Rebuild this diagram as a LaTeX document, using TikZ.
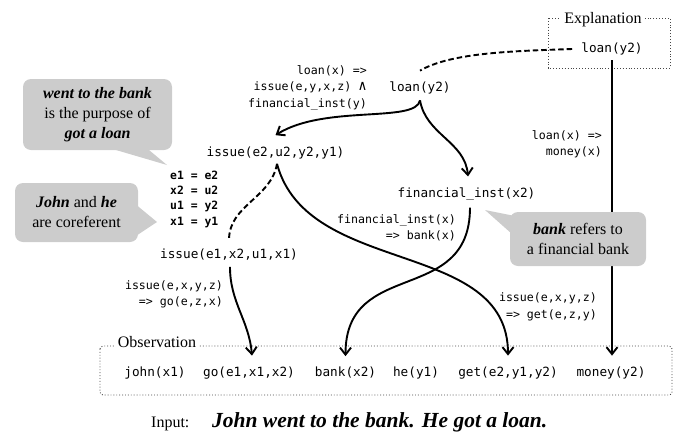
\documentclass[tikz,border=0pt]{standalone}
\usepackage{fontspec}
\setmainfont{Liberation Serif}
\newfontfamily\monofam{DejaVu Sans Mono}
\usetikzlibrary{arrows.meta}
\definecolor{callgray}{RGB}{204,204,204}
\definecolor{dotgray}{RGB}{70,70,70}
\newcommand\myterm{\monofam\fontsize{12.7}{16}\selectfont}
\newcommand\myrule{\monofam\fontsize{11.6}{16.5}\selectfont}
\newcommand\myeq{\monofam\bfseries\fontsize{11.4}{15.3}\selectfont}
\newcommand\mycall{\fontsize{16}{20}\selectfont}
\begin{document}
\begin{tikzpicture}[x=1pt,y=1pt,
  term/.style={font=\myterm, inner sep=1pt},
  rulelbl/.style={font=\myrule, align=right, inner sep=0pt, anchor=east},
  eqlbl/.style={font=\myeq, align=left, inner sep=0pt, anchor=west},
  callout/.style={fill=callgray, rounded corners=8pt, font=\mycall, align=center, inner sep=0pt},
  infer/.style={line width=1.9pt, -{Straight Barb[length=7pt,width=11pt]}},
  unify/.style={line width=1.9pt, dash pattern=on 5.5pt off 3pt},
  frame/.style={dotgray, line width=0.9pt, dash pattern=on 0.9pt off 2pt},
  framelbl/.style={fill=white, font=\fontsize{16}{19}\selectfont, inner xsep=3pt, inner ysep=1pt}
]
\useasboundingbox (0,0) rectangle (680,-434);

% frames
\draw[frame, rounded corners=3pt] (100,-346) rectangle (672,-395);
\node[framelbl] (obsl) at (157,-342.5) {Observation};
\draw[frame] (548,-18) rectangle (670,-68);
\node[framelbl] (expl) at (603,-19.3) {Explanation};

% terms
\node[term] (loanE) at (612,-49) {loan(y2)};
\node[term] (loanM) at (420,-88) {loan(y2)};
\node[term] (iss2) at (275.5,-152.5) {issue(e2,u2,y2,y1)};
\node[term] (fin) at (466.5,-194) {financial\_inst(x2)};
\node[term] (iss1) at (229,-255) {issue(e1,x2,u1,x1)};
\node[term] (john) at (155,-373) {john(x1)};
\node[term] (go) at (249,-373) {go(e1,x1,x2)};
\node[term] (bank) at (345.5,-373) {bank(x2)};
\node[term] (he) at (416,-373) {he(y1)};
\node[term] (get) at (508,-373) {get(e2,y1,y2)};
\node[term] (money) at (611,-373) {money(y2)};

% rule labels
\node[rulelbl] (r1) at (367,-87.5) {loan(x) =>\\issue(e,y,x,z) {\fontsize{14}{16.5}\selectfont∧}\\financial\_inst(y)};
\node[rulelbl] (r2) at (602,-144.5) {loan(x) =>\\money(x)};
\node[rulelbl] (r3) at (456,-228) {financial\_inst(x)\\=> bank(x)};
\node[rulelbl] (r4) at (223,-294.5) {issue(e,x,y,z)\\=> go(e,z,x)};
\node[rulelbl] (r5) at (597,-307) {issue(e,x,y,z)\\=> get(e,z,y)};
\node[eqlbl] (eqs) at (170,-199) {e1 = e2\\x2 = u2\\u1 = y2\\x1 = y1};

% connectors
\coordinate (moneyT) at ([yshift=10pt]money.north);
\draw[unify] ([xshift=-8pt]loanE.west) to[out=182,in=30,in looseness=0.6] ([yshift=10pt]loanM.north);
\draw[infer] ([yshift=-5pt]loanM.south) to[out=260,in=32,out looseness=0.4] ([yshift=10pt]iss2.north);
\draw[infer] ([yshift=-5pt]loanM.south) to[out=-80,in=95] ([xshift=1.5pt,yshift=10pt]fin.north);
\draw[unify] ([xshift=1.5pt,yshift=-4pt]iss2.south) to[out=-100,in=90] ([yshift=8pt]iss1.north);
\draw[infer] ([xshift=1.5pt,yshift=-4pt]iss2.south) to[out=-75,in=90] ([yshift=10pt]get.north);
\draw[infer] ([xshift=3.5pt,yshift=-6pt]fin.south) to[out=-90,in=90,looseness=1.3] ([yshift=10pt]bank.north);
\draw[infer] ([xshift=1pt,yshift=-5pt]iss1.south) to[out=-90,in=95] ([xshift=3pt,yshift=10pt]go.north);
\draw[infer] ([yshift=-4pt]loanE.south) -- (loanE.south |- moneyT);

% callouts
\node[callout, minimum width=149pt, minimum height=71pt] (c1) at (97.5,-114.5)
  {{\bfseries\itshape went to the bank}\\is the purpose of\\{\bfseries\itshape got a loan}};
\coordinate (tip1) at (167,-165);
\fill[callgray] ([xshift=87pt,yshift=2pt]c1.south west) -- (tip1) -- ([xshift=124pt,yshift=2pt]c1.south west) -- cycle;

\node[callout, minimum width=123pt, minimum height=59pt] (c2) at (76.5,-212.5)
  {{\bfseries\itshape John} and {\bfseries\itshape he}\\are coreferent};
\coordinate (tip2) at (157,-222);
\fill[callgray] ([xshift=-2pt,yshift=-22pt]c2.north east) -- (tip2) -- ([xshift=-2pt,yshift=-53pt]c2.north east) -- cycle;

\node[callout, minimum width=136pt, minimum height=54pt] (c3) at (578,-239)
  {{\bfseries\itshape bank} refers to\\a financial bank};
\coordinate (tip3) at (485,-210);
\fill[callgray] ([xshift=4pt,yshift=-4pt]c3.north west) -- (tip3) -- ([xshift=2pt,yshift=-22pt]c3.north west) -- cycle;

% input line
\node[anchor=base west, font=\fontsize{16}{19}\selectfont, inner sep=0pt] (inlbl) at (151,-427) {Input:};
\node[anchor=base west, font=\fontsize{21.5}{25}\selectfont\bfseries\itshape, inner sep=0pt] (insent) at (212,-427) {John went to the bank. He got a loan.};
\end{tikzpicture}
\end{document}
